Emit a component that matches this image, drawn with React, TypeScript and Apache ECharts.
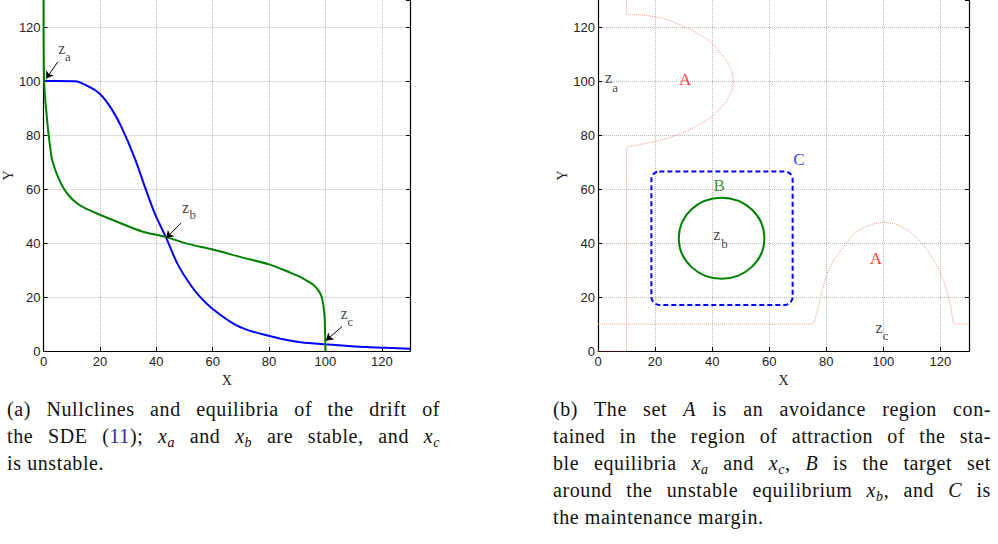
import React, { useEffect, useRef } from "react";
import * as echarts from "echarts";

// ---------- shared axis ticks ----------
const AXIS_MIN = 0;
const AXIS_MAX = 130;
const AXIS_STEP = 20;

// ---------- (a) nullclines ----------
const blueX = [0, 5, 11.2, 15.9, 20, 24.1, 27.6, 32.4, 35.9, 39.4, 43.5, 47.6, 52.4, 56, 60, 67.6, 73, 79.4, 85, 91.2, 100, 107, 114.7, 122, 130];
const blueY = [100, 100, 99.9, 98, 95.2, 89.7, 83, 71.3, 60.9, 51.1, 41.9, 32.1, 24.1, 19.5, 15.6, 10, 7.6, 5.8, 4.4, 3.3, 2.5, 2, 1.5, 1.2, 0.9];

const greenX = [0, 0.05, 0.2, 0.5, 0.9, 1.3, 1.8, 2.4, 2.9, 4, 5.3, 7, 8.8, 11.5, 14.7, 20, 26.5, 34.7, 43.5, 51.2, 60, 70, 80, 87.6, 91, 93.5, 95.8, 97.6, 98.6, 99.2, 99.6, 99.8, 100];
const greenY = [130, 110, 100, 94, 89.7, 85, 80, 75, 71.3, 67.5, 64, 60.5, 57.8, 55, 52.9, 50.5, 47.7, 44.4, 42.2, 39.7, 37.6, 34.8, 32.1, 29, 27.5, 26, 24.5, 22.3, 20.2, 17.4, 14, 10, 0];

// arrows: start (tail) -> end (equilibrium)
const arrowStartX = [5.05, 48.8, 105.9];
const arrowStartY = [107.1, 47.4, 9.1];
const arrowEndX = [0.9, 43.5, 100.2];
const arrowEndY = [100.9, 41.9, 3.9];

// z labels on (a)
const zSubs = ["a", "b", "c"];
const zLeftX = [6.5, 50.4, 106.6];
const zLeftY = [112.2, 53.3, 13.9];
const zLeftSubX = [8.6, 52.9, 108.8];
const zLeftSubY = [108.9, 50.6, 10.9];

// ---------- (b) sets ----------
const regionA1X = [0, 10, 10, 14, 20, 25, 30, 35, 40, 45, 46.7, 47.5, 46.7, 45, 40, 35, 32, 27, 22, 16, 10, 10];
const regionA1Y = [0, 0, 75, 76.3, 77.6, 79, 81, 83.6, 86.9, 92.5, 96, 100, 104, 107.5, 114, 117.6, 119.3, 121.6, 123.4, 124.4, 125, 130];

const regionA2X = [0, 75, 76.5, 78, 80, 82.5, 85, 90, 95, 100, 105, 110, 115, 118, 120, 122, 123.5, 125, 130];
const regionA2Y = [10, 10, 13.5, 20, 28, 33.5, 37.2, 43.7, 46.6, 47.7, 46.8, 43.6, 38, 33, 29, 23, 17, 10, 10];

// target set B (circle): centre x, centre y, radius
const setB = [43.3, 41.8, 15];
// maintenance margin C (rounded rectangle): left, top, right, bottom
const setC = [18.7, 66.5, 68.2, 17.1];

const setLabels = ["A", "A", "B", "C"];
const setLabelX = [30.5, 97.4, 42.5, 70.4];
const setLabelY = [100.5, 34.3, 61.2, 70.9];
const setLabelColor = ["#ff0000", "#ff0000", "#008000", "#0000ff"];

const zRightX = [3.7, 41.6, 98.5];
const zRightY = [101.4, 43.2, 8.9];
const zRightSubX = [6.0, 44.3, 100.8];
const zRightSubY = [97.7, 40.0, 5.8];

const SERIF = "Liberation Serif";
const SANS = "Liberation Sans";

function xAxisOpt(gridIndex: number) {
  return {
    type: "value",
    gridIndex,
    min: AXIS_MIN,
    max: AXIS_MAX,
    interval: AXIS_STEP,
    name: "X",
    nameLocation: "middle",
    nameGap: 9,
    nameTextStyle: { fontFamily: SERIF, fontSize: 14, color: "#222" },
    axisLine: { show: true, onZero: false, lineStyle: { color: "#000", width: 1.2 } },
    axisTick: { show: true, inside: true, length: 4, lineStyle: { color: "#000" } },
    axisLabel: { show: true, showMaxLabel: false, margin: 4, fontFamily: SANS, fontSize: 13, color: "#222" },
    splitLine: { show: true, showMaxLine: false, lineStyle: { type: "dotted", color: "#b8b8b8", width: 1 } },
  };
}

function yAxisOpt(gridIndex: number, nameGap: number) {
  return {
    type: "value",
    gridIndex,
    min: AXIS_MIN,
    max: AXIS_MAX,
    interval: AXIS_STEP,
    name: "Y",
    nameLocation: "middle",
    nameGap,
    nameTextStyle: { fontFamily: SERIF, fontSize: 14, color: "#222" },
    axisLine: { show: true, onZero: false, lineStyle: { color: "#000", width: 1.2 } },
    axisTick: { show: true, inside: true, length: 4, lineStyle: { color: "#000" } },
    axisLabel: { show: true, showMaxLabel: false, margin: 3, fontFamily: SANS, fontSize: 13, color: "#222" },
    splitLine: { show: true, showMaxLine: false, lineStyle: { type: "dotted", color: "#b8b8b8", width: 1 } },
  };
}

function rightBorderAxis(gridIndex: number) {
  return {
    type: "value",
    gridIndex,
    position: "right",
    min: AXIS_MIN,
    max: AXIS_MAX,
    interval: AXIS_STEP,
    axisLine: { show: true, onZero: false, lineStyle: { color: "#000", width: 1.2 } },
    axisTick: { show: true, inside: true, length: 4, lineStyle: { color: "#000" } },
    axisLabel: { show: false },
    splitLine: { show: false },
  };
}

function zip(xs: number[], ys: number[]) {
  return xs.map((x, i) => [x, ys[i]]);
}

function textSeries(
  xAxisIndex: number,
  yAxisIndex: number,
  xs: number[],
  ys: number[],
  texts: string[],
  fontSize: number,
  colors?: string[]
) {
  return {
    type: "scatter",
    xAxisIndex,
    yAxisIndex,
    symbolSize: 1,
    itemStyle: { color: "rgba(0,0,0,0)" },
    silent: true,
    clip: false,
    z: 10,
    data: xs.map((x, i) => ({
      value: [x, ys[i]],
      label: {
        show: true,
        position: "inside",
        formatter: texts[i],
        fontFamily: SERIF,
        fontSize,
        color: colors ? colors[i] : "#111",
      },
    })),
  };
}

export default function App() {
  const ref = useRef<HTMLDivElement>(null);

  useEffect(() => {
    if (!ref.current) return;
    const chart = echarts.init(ref.current, undefined, { renderer: "svg" });

    const option = {
      animation: false,
      backgroundColor: "#fff",
      textStyle: { fontFamily: SANS },
      grid: [
        { left: 42, top: 0, width: 368, height: 354 },
        { left: 598, top: -3, width: 371, height: 357 },
      ],
      xAxis: [xAxisOpt(0), xAxisOpt(1)],
      yAxis: [yAxisOpt(0, 18), rightBorderAxis(0), yAxisOpt(1, 22), rightBorderAxis(1)],
      series: [
        // ----- (a) -----
        {
          type: "line",
          xAxisIndex: 0,
          yAxisIndex: 0,
          data: zip(blueX, blueY),
          showSymbol: false,
          smooth: 0.3,
          lineStyle: { color: "#0000ff", width: 2 },
          z: 3,
        },
        {
          type: "line",
          xAxisIndex: 0,
          yAxisIndex: 0,
          data: zip(greenX, greenY),
          showSymbol: false,
          smooth: 0.3,
          lineStyle: { color: "#008000", width: 2 },
          z: 4,
        },
        {
          type: "lines",
          coordinateSystem: "cartesian2d",
          xAxisIndex: 0,
          yAxisIndex: 0,
          symbol: ["none", "arrow"],
          symbolSize: 7,
          lineStyle: { color: "#000", width: 1, opacity: 1, curveness: 0 },
          data: arrowStartX.map((x, i) => ({
            coords: [
              [x, arrowStartY[i]],
              [arrowEndX[i], arrowEndY[i]],
            ],
          })),
          z: 6,
        },
        textSeries(0, 0, zLeftX, zLeftY, zSubs.map(() => "z"), 16),
        textSeries(0, 0, zLeftSubX, zLeftSubY, zSubs, 13),
        // ----- (b) -----
        {
          type: "line",
          xAxisIndex: 1,
          yAxisIndex: 2,
          data: zip(regionA1X, regionA1Y),
          showSymbol: false,
          smooth: 0.2,
          lineStyle: { color: "#f29a90", width: 1, type: "dotted" },
          z: 3,
        },
        {
          type: "line",
          xAxisIndex: 1,
          yAxisIndex: 2,
          data: zip(regionA2X, regionA2Y),
          showSymbol: false,
          smooth: 0.2,
          lineStyle: { color: "#f29a90", width: 1, type: "dotted" },
          z: 3,
        },
        {
          type: "custom",
          xAxisIndex: 1,
          yAxisIndex: 2,
          clip: false,
          silent: true,
          data: [setC],
          encode: { x: [0, 2], y: [1, 3] },
          renderItem: (_p: any, api: any) => {
            const a = api.coord([api.value(0), api.value(1)]);
            const b = api.coord([api.value(2), api.value(3)]);
            return {
              type: "rect",
              shape: { x: a[0], y: a[1], width: b[0] - a[0], height: b[1] - a[1], r: 8 },
              style: { fill: "none", stroke: "#0000ff", lineWidth: 2, lineDash: [5, 3] },
            };
          },
          z: 4,
        },
        {
          type: "custom",
          xAxisIndex: 1,
          yAxisIndex: 2,
          clip: false,
          silent: true,
          data: [setB],
          encode: { x: 0, y: 1 },
          renderItem: (_p: any, api: any) => {
            const c = api.coord([api.value(0), api.value(1)]);
            const s = api.size([api.value(2), api.value(2)]);
            return {
              type: "ellipse",
              shape: { cx: c[0], cy: c[1], rx: s[0], ry: s[1] },
              style: { fill: "none", stroke: "#008000", lineWidth: 2 },
            };
          },
          z: 4,
        },
        textSeries(1, 2, setLabelX, setLabelY, setLabels, 17, setLabelColor),
        textSeries(1, 2, zRightX, zRightY, zSubs.map(() => "z"), 16),
        textSeries(1, 2, zRightSubX, zRightSubY, zSubs, 13),
      ],
    };

    chart.setOption(option as any);
    return () => chart.dispose();
  }, []);

  const capFont: React.CSSProperties = {
    fontFamily: "'Liberation Serif', serif",
    fontSize: 20,
    letterSpacing: "0.6px",
    lineHeight: "27px",
    color: "#111",
  };
  const justLine: React.CSSProperties = { textAlign: "justify", textAlignLast: "justify", whiteSpace: "nowrap", height: 27 };
  const left: React.CSSProperties = { textAlign: "left", whiteSpace: "nowrap", height: 27 };
  const sub = (t: string) => (
    <>
      <i>x</i>
      <span style={{ fontSize: 14, fontStyle: "italic", position: "relative", top: 4, lineHeight: 0 }}>{t}</span>
    </>
  );

  return (
    <div style={{ position: "absolute", left: 0, top: 0, width: 998, height: 544, background: "#fff", overflow: "hidden" }}>
      <div ref={ref} style={{ position: "absolute", left: 0, top: 0, width: 998, height: 392 }} />
      <div style={{ ...capFont, position: "absolute", left: 7, top: 396, width: 433 }}>
        <div style={justLine}>(a) Nullclines and equilibria of the drift of</div>
        <div style={justLine}>
          the SDE (<span style={{ color: "#2b2b9a" }}>11</span>); {sub("a")} and {sub("b")} are stable, and {sub("c")}
        </div>
        <div style={left}>is unstable.</div>
      </div>
      <div style={{ ...capFont, position: "absolute", left: 553, top: 396, width: 438 }}>
        <div style={justLine}>
          (b) The set <i>A</i> is an avoidance region con-
        </div>
        <div style={justLine}>tained in the region of attraction of the sta-</div>
        <div style={justLine}>
          ble equilibria {sub("a")} and {sub("c")}, <i>B</i> is the target set
        </div>
        <div style={justLine}>
          around the unstable equilibrium {sub("b")}, and <i>C</i> is
        </div>
        <div style={left}>the maintenance margin.</div>
      </div>
    </div>
  );
}
